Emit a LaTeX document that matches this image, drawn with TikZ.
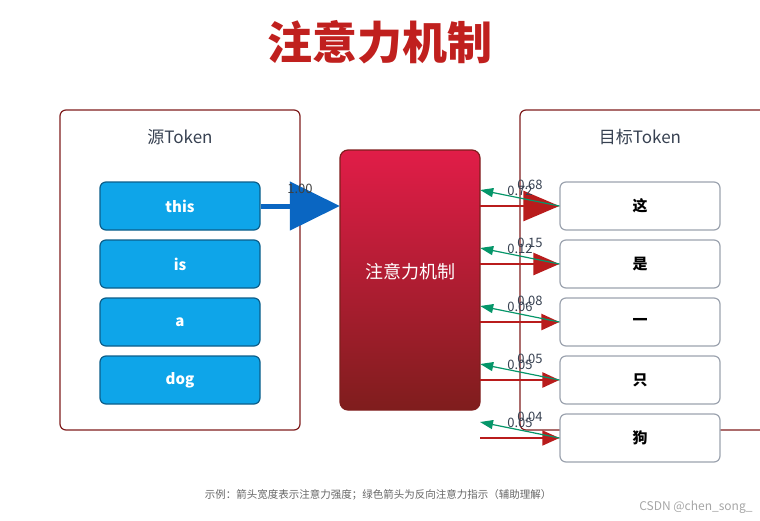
\documentclass[tikz,border=0pt]{standalone}
\usepackage{fontspec}
\setmainfont{Noto Sans CJK SC}
\usetikzlibrary{arrows.meta}
\definecolor{titred}{HTML}{C0201E}
\definecolor{frm}{HTML}{7F1D1D}
\definecolor{bluef}{HTML}{0EA5E9}
\definecolor{blueb}{HTML}{0B5E8A}
\definecolor{arrb}{HTML}{0A66C2}
\definecolor{arrr}{HTML}{B91C1C}
\definecolor{arrg}{HTML}{059669}
\definecolor{txt}{HTML}{374151}
\definecolor{grayb}{HTML}{9CA3AF}
\begin{document}
\begin{tikzpicture}[x=1pt,y=-1pt,
  frame/.style={draw=frm,line width=1.2pt,rounded corners=6pt},
  src/.style={draw=blueb,line width=1.2pt,fill=bluef,rounded corners=6pt,minimum width=160pt,minimum height=48pt,text=white,font=\fontsize{15}{15}\selectfont\bfseries},
  tgt/.style={draw=grayb,line width=1.2pt,fill=white,rounded corners=6pt,minimum width=160pt,minimum height=48pt,text=black,font=\fontsize{15}{15}\selectfont\bfseries},
  lbl/.style={text=txt,font=\fontsize{13}{13}\selectfont,inner sep=0pt},
  red/.style={arrr,line width=2.5pt},
  grn/.style={arrg,line width=1.2pt,-{Triangle[length=13pt,width=9pt]}}]
\useasboundingbox (0,0) rectangle (760,520);
\node[text=titred,font=\fontsize{45}{45}\selectfont\bfseries] (title) at (380,42) {注意力机制};
\draw[frame] (60,110) rectangle (300,430);
\node[text=txt,font=\fontsize{17}{17}\selectfont] (sl) at (180,137) {源Token};
\draw[frame] (520,110) rectangle (770,430);
\node[text=txt,font=\fontsize{17}{17}\selectfont] (tl) at (640,137) {目标Token};
\foreach \n/\t/\y in {s1/this/206,s2/is/264,s3/a/322,s4/dog/380}
  \node[src] (\n) at (180,\y) {\t};
\foreach \n/\t/\y in {t1/这/206,t2/是/264,t3/一/322,t4/只/380,t5/狗/438}
  \node[tgt] (\n) at (640,\y) {\t};
\shade[top color={rgb,255:red,225;green,29;blue,72},bottom color={rgb,255:red,127;green,29;blue,29},rounded corners=8pt,draw=frm,line width=1.2pt] (340,150) rectangle (480,410);
\node[minimum width=140pt,minimum height=244pt,text=white,font=\fontsize{18}{18}\selectfont] (att) at (410,272) {注意力机制};
\draw[arrb,line width=5pt,-{Triangle[length=50pt,width=48pt]}] (s1.east) -- (att.west|-s1.east);
\node[lbl,text=black!75] (w0) at (300,189) {1.00};
\coordinate (r5) at (480,438);
\draw[red,-{Triangle[length=36pt,width=30pt]}] (att.east|-t1.west) -- (t1.west);
\draw[red,-{Triangle[length=26pt,width=22pt]}] (att.east|-t2.west) -- (t2.west);
\draw[red,-{Triangle[length=18pt,width=16pt]}] (att.east|-t3.west) -- (t3.west);
\draw[red,-{Triangle[length=17pt,width=15pt]}] (att.east|-t4.west) -- (t4.west);
\draw[red,line width=1.5pt,-{Triangle[length=17pt,width=15pt]}] (r5) -- (t5.west);
\foreach \i in {1,2,3,4}
  \draw[grn] (t\i.west) -- ([yshift=16pt]att.east|-t\i.west);
\coordinate (g5) at (480,422);
\draw[grn] (t5.west) -- (g5);
\foreach \i/\a/\b/\y in {1/0.68/0.72/206,2/0.15/0.12/264,3/0.08/0.06/322,4/0.05/0.05/380,5/0.04/0.05/438}{
  \node[lbl] at (530,\y-21) {\a};
  \node[lbl] at (520,\y-15) {\b};}
\node[text=black!60,font=\fontsize{10.5}{10.5}\selectfont] (cap) at (378,495) {示例：箭头宽度表示注意力强度；绿色箭头为反向注意力指示（辅助理解）};
\node[text=black!35,font=\fontsize{12}{12}\selectfont,anchor=east] (wm) at (756,507) {CSDN @chen\_song\_};
\end{tikzpicture}
\end{document}
